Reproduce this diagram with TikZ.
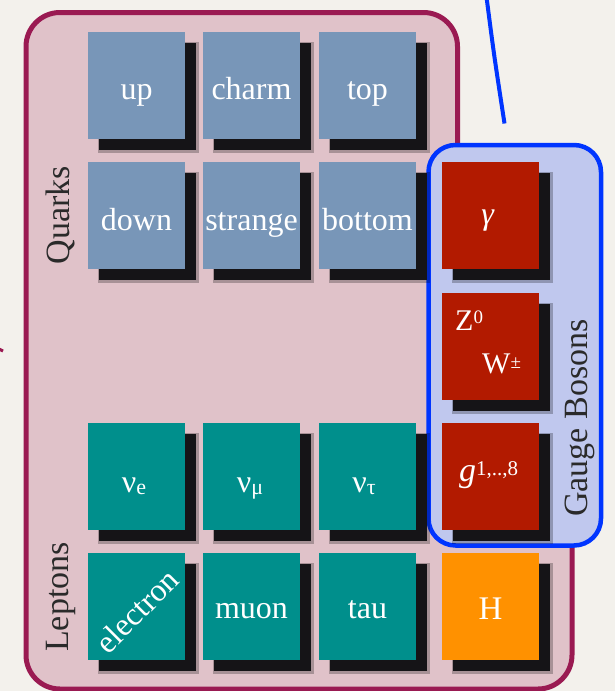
\documentclass[tikz,border=0pt]{standalone}
\usepackage{fontspec}
\setmainfont{Liberation Serif}
\usetikzlibrary{shadows}
\definecolor{bgc}{HTML}{F3F1EC}
\definecolor{pinkc}{HTML}{E0C2C9}
\definecolor{maroonc}{HTML}{9A1A52}
\definecolor{quarkc}{HTML}{7896B8}
\definecolor{tealc}{HTML}{008F8C}
\definecolor{redc}{HTML}{B21A00}
\definecolor{orangec}{HTML}{FF9100}
\definecolor{bluefill}{HTML}{C0C8EE}
\definecolor{bluec}{HTML}{0035FF}
\definecolor{shadowc}{HTML}{151417}
\definecolor{sidetext}{HTML}{2A2A2A}
\newcommand\tlab[4][]{%
  \node[lab,#1] (#2) at (#3) {#4};}
\begin{document}
\begin{tikzpicture}[x=1pt,y=-1pt,
  box/.style={minimum width=97pt,minimum height=107pt,inner sep=0pt,outer sep=0pt,
    general shadow={shadow xshift=11.5pt,shadow yshift=-11.5pt,fill=black,fill opacity=0.25,shadow scale=1.04},
    general shadow={shadow xshift=11pt,shadow yshift=-11pt,fill=shadowc}},
  qbox/.style={box,fill=quarkc},
  lbox/.style={box,fill=tealc},
  gbox/.style={box,fill=redc},
  hbox/.style={box,fill=orangec},
  lab/.style={text=white,font=\fontsize{32}{36}\selectfont,inner sep=0pt,anchor=base},
  side/.style={text=sidetext,font=\fontsize{34}{40}\selectfont,inner sep=0pt,rotate=90,anchor=base}]
% background
\fill[bgc] (0,0) rectangle (615,691);
\useasboundingbox (0,0) rectangle (615,691);
% maroon frame
\draw[maroonc,line width=5,fill=pinkc,rounded corners=34]
  (26,12.5) -- (457.5,12.5) -- (457.5,460) -- (572,460) -- (572,689) -- (26,689) -- cycle;
% small mark at the left edge
\coordinate (m1) at (-2,348.5);
\coordinate (m2) at (3,351);
\draw[maroonc,line width=3] (m1) -- (m2);
% blue curve
\coordinate (c1) at (486.5,-3);
\coordinate (c2) at (504.5,123.5);
\draw[bluec,line width=4] (c1) .. controls (494,55) .. (c2);
% gauge boson frame
\node[draw=bluec,fill=bluefill,line width=4.5,rounded corners=27,
  minimum width=172.5,minimum height=400.5,inner sep=0pt] (gauge) at (514.75,345.25) {};
% quark boxes
\node[qbox] (up) at (136.5,85.5) {};
\node[qbox] (charm) at (251.5,85.5) {};
\node[qbox] (top) at (367.5,85.5) {};
\node[qbox] (down) at (136.5,215.5) {};
\node[qbox] (strange) at (251.5,215.5) {};
\node[qbox] (bottom) at (367.5,215.5) {};
% lepton boxes
\node[lbox] (nue) at (136.5,476.5) {};
\node[lbox] (numu) at (251.5,476.5) {};
\node[lbox] (nutau) at (367.5,476.5) {};
\node[lbox] (electron) at (136.5,606.5) {};
\node[lbox] (muon) at (251.5,606.5) {};
\node[lbox] (tau) at (367.5,606.5) {};
% gauge boxes
\node[gbox] (gamma) at (490.5,215.5) {};
\node[gbox] (zw) at (490.5,346.5) {};
\node[gbox] (gluon) at (490.5,476.5) {};
\node[hbox] (higgs) at (490.5,606.5) {};
% labels
\tlab{tup}{136.5,99}{up}
\tlab{tcharm}{251.5,99}{charm}
\tlab{ttop}{367.5,99}{top}
\tlab{tdown}{136.5,230}{down}
\tlab{tstrange}{251.5,230}{strange}
\tlab{tbottom}{367.5,230}{bottom}
\tlab{tnue}{134,492}{ν\raisebox{-2pt}{\fontsize{22}{24}\selectfont e}}
\tlab{tnumu}{250,492}{ν\raisebox{-2pt}{\fontsize{22}{24}\selectfont μ}}
\tlab{tnutau}{364,492}{ν\raisebox{-2pt}{\fontsize{22}{24}\selectfont τ}}
\tlab[rotate=45,anchor=center]{telectron}{137,611}{electron}
\tlab{tmuon}{251.5,618}{muon}
\tlab{ttau}{367.5,618}{tau}
\tlab{tgamma}{488,224}{\textit{γ}}
\tlab[anchor=base west,font=\fontsize{30}{34}\selectfont]{tz}{455,330}{Z\raisebox{7pt}{\fontsize{19}{22}\selectfont 0}}
\tlab[anchor=base west,font=\fontsize{30}{34}\selectfont]{tw}{482,373}{W\raisebox{5pt}{\fontsize{19}{22}\selectfont ±}}
\tlab[font=\fontsize{34}{38}\selectfont]{tgluon}{488.5,481}{\textit{g}\raisebox{6pt}{\fontsize{21}{24}\selectfont 1,..,8}}
\tlab[font=\fontsize{33}{36}\selectfont]{thiggs}{490.5,619}{H}
% side labels
\node[side] (quarks) at (69,215) {Quarks};
\node[side] (leptons) at (68,597) {Leptons};
\node[side] (gbosons) at (587,418) {Gauge Bosons};
\end{tikzpicture}
\end{document}
